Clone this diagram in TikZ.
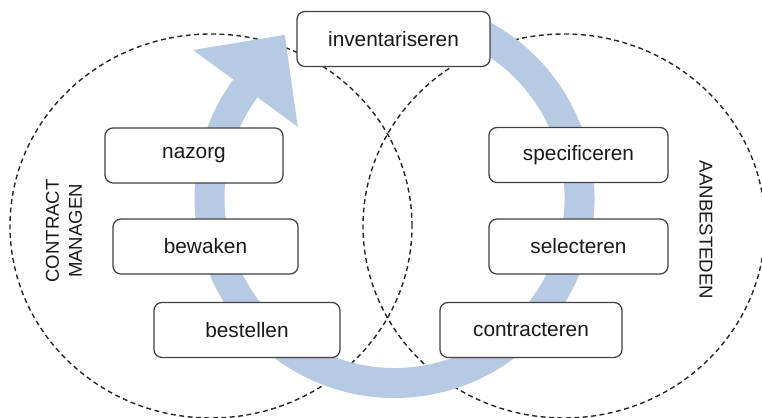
\documentclass[tikz,border=0pt]{standalone}
\usepackage{fontspec}
\setmainfont{Liberation Sans}
\usetikzlibrary{calc}
\definecolor{cyclusblauw}{RGB}{182,202,228}
\tikzset{
  stap/.style={draw=black!75, line width=0.9pt, fill=white, rounded corners=0.2cm,
    minimum height=1.375cm, font=\fontsize{14.8}{17}\selectfont, text=black!90},
  fase/.style={font=\fontsize{13.2}{16.3}\selectfont, align=center, text=black!90},
  kring/.style={draw=black!85, line width=1pt, dash pattern=on 3.5pt off 2.5pt}
}

\begin{document}
\begin{tikzpicture}[x=0.025cm, y=0.025cm]
    \useasboundingbox (0,0) rectangle (762,418);
    \clip (0,0) rectangle (762,418);

    % Dashed circles
    \draw[kring] (211,192) ellipse [x radius=201, y radius=192];
    \draw[kring] (564,192) ellipse [x radius=201, y radius=192];

    % Cycle arrow
    \coordinate (midden) at (394.5,220);
    \draw[cyclusblauw, line width=0.75cm] ($(midden)+(64:185)$) arc[start angle=64, end angle=-217, radius=185];
    \fill[cyclusblauw] ($(midden)+(143.7:250)$) -- ($(midden)+(143.7:185)+(53.7:66.5)$) -- ($(midden)+(143.7:120)$) -- cycle;

    % Steps
    \node[stap, minimum width=4.825cm] (inventariseren) at (393.5,379) {inventariseren};
    \node[stap, minimum width=4.475cm] (specificeren) at (578.5,263) {specificeren};
    \node[stap, minimum width=4.475cm] (selecteren) at (578.5,171.5) {selecteren};
    \node[stap, minimum width=4.55cm] (contracteren) at (531,88) {contracteren};
    \node[stap, minimum width=4.65cm] (bestellen) at (247,88) {bestellen};
    \node[stap, minimum width=4.625cm] (bewaken) at (205.5,171.5) {bewaken};
    \node[stap, minimum width=4.45cm] (nazorg) at (194,262.5) {nazorg};

    % Phases
    \node[fase, rotate=90] (contractmanagen) at (64,187) {CONTRACT\\MANAGEN};
    \node[fase, rotate=-90] (aanbesteden) at (706,188) {AANBESTEDEN};
\end{tikzpicture}
\end{document}
